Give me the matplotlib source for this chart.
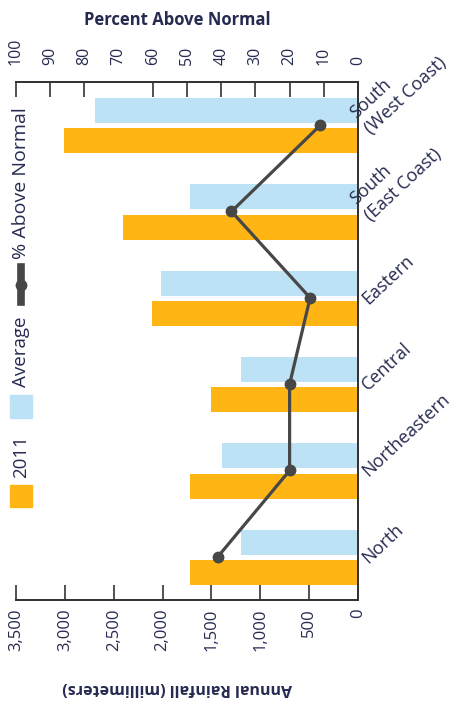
import matplotlib.pyplot as plt
import matplotlib.transforms as mtransforms
from matplotlib.patches import Rectangle
from matplotlib.lines import Line2D
import numpy as np

REGIONS = ['South\n(West Coast)', 'South\n(East Coast)', 'Eastern',
           'Central', 'Northeastern', 'North']
RAIN_AVG = [2690, 1720, 2020, 1200, 1390, 1200]
RAIN_2011 = [3010, 2400, 2110, 1500, 1720, 1720]
PCT_ABOVE = [11, 37, 14, 20, 20, 41]
RAIN_TICKS = [0, 500, 1000, 1500, 2000, 2500, 3000, 3500]
PCT_TICKS = [0, 10, 20, 30, 40, 50, 60, 70, 80, 90, 100]

plt.rcParams['font.family'] = ['Open Sans', 'DejaVu Sans']
TEXT = '#262a50'
BLUE = '#bde2f5'
ORANGE = '#ffb514'
DARK = '#474747'
AXIS = '#333333'

W, H = 469, 719
fig = plt.figure(figsize=(W / 100, H / 100), dpi=100)
ax = fig.add_axes([16 / W, 1 - 600 / H, 342 / W, 518 / H])

pos = np.arange(len(REGIONS))
ax.barh(pos - 0.17, RAIN_AVG, height=0.29, color=BLUE)
ax.barh(pos + 0.18, RAIN_2011, height=0.29, color=ORANGE)
ax.set_xlim(3500, 0)
ax.set_ylim(5.5, -0.5)
ax.set_yticks([])
ax.set_xticks(RAIN_TICKS)
ax.set_xticklabels([f'{t:,}' for t in RAIN_TICKS], rotation=90)
ax.tick_params(axis='x', direction='in', length=11, width=1.2, pad=6,
               labelsize=12, labelcolor=TEXT, color=AXIS)
ax.xaxis.get_major_ticks()[1].tick1line.set_visible(False)

ax2 = ax.twiny()
ax2.set_xlim(100, 0)
ax2.plot(PCT_ABOVE, pos, color=DARK, linewidth=2.3, marker='o',
         markersize=7.5, zorder=5)
ax2.set_xticks(PCT_TICKS)
ax2.set_xticklabels([str(t) for t in PCT_TICKS], rotation=90)
ax2.tick_params(axis='x', direction='in', length=11, width=1.2, pad=12,
                labelsize=11.5, labelcolor=TEXT, color=AXIS)
ax2.xaxis.get_major_ticks()[7].tick2line.set_visible(False)

for a in (ax, ax2):
    a.spines['left'].set_visible(False)
    for s in ('right', 'top', 'bottom'):
        a.spines[s].set_color(AXIS)
        a.spines[s].set_linewidth(1.3)

# category labels
trans = mtransforms.blended_transform_factory(ax.transAxes, ax.transData)
for i, name in enumerate(REGIONS):
    ax.text(1.03, i + 0.08, name, transform=trans, rotation=43,
            rotation_mode='anchor', ha='left', va='baseline',
            fontsize=13, color=TEXT, linespacing=1.3,
            multialignment='left', clip_on=False)

fig.text(177 / W, 1 - 20 / H, 'Percent Above Normal', ha='center',
         va='center', fontsize=12, fontweight='bold', color=TEXT)
fig.text(177 / W, 1 - 688 / H, 'Annual Rainfall (millimeters)', ha='center',
         va='center', fontsize=11.5, fontweight='bold', color=TEXT,
         rotation=180)

# legend, rotated like the rest of the chart
fig.patches.append(Rectangle((10 / W, 1 - 507 / H), 22 / W, 22 / H,
                             color=ORANGE, transform=fig.transFigure))
fig.text(21 / W, 1 - 457 / H, '2011', rotation=90, ha='center', va='center',
         fontsize=13.5, color=TEXT)
fig.patches.append(Rectangle((10 / W, 1 - 418 / H), 22 / W, 23 / H,
                             color=BLUE, transform=fig.transFigure))
fig.text(21 / W, 1 - 352 / H, 'Average', rotation=90, ha='center',
         va='center', fontsize=13.5, color=TEXT)
fig.lines.append(Line2D([21 / W, 21 / W], [1 - 302 / H, 1 - 267 / H],
                        color=DARK, linewidth=5.5, transform=fig.transFigure))
fig.lines.append(Line2D([21 / W], [1 - 285 / H], color=DARK, marker='o',
                        markersize=7.5, transform=fig.transFigure))
fig.text(21 / W, 1 - 183 / H, '% Above Normal', rotation=90, ha='center',
         va='center', fontsize=14, color=TEXT)

fig.savefig('out.png', dpi=100)
